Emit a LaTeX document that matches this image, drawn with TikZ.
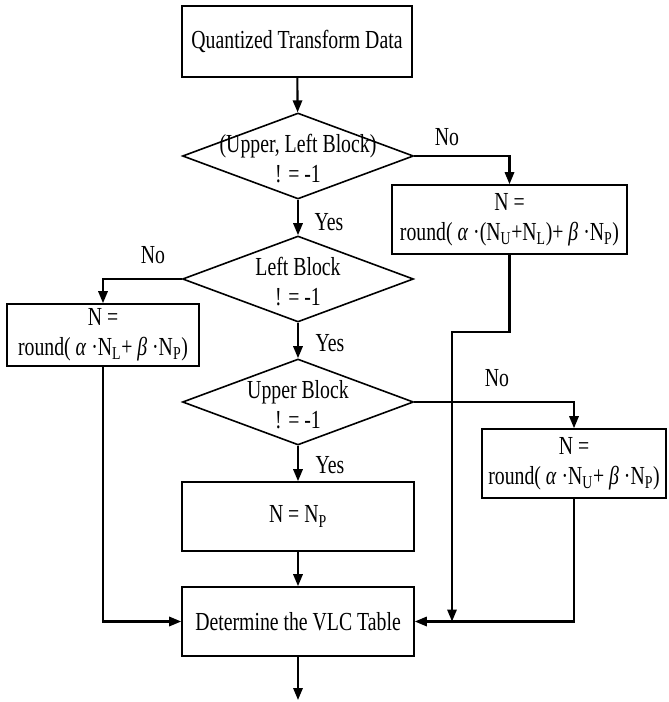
\documentclass[tikz,border=0pt]{standalone}
\usepackage{fontspec}
\setmainfont[FakeStretch=0.76]{Liberation Serif}
\usetikzlibrary{shapes.geometric,arrows.meta}

\newcommand{\flowfont}{\fontsize{19.5}{22.5}\selectfont}

\tikzset{every picture/.style={line width=0.75pt}}
\tikzset{
  procbox/.style={draw, line width=1.2pt, rectangle, inner sep=0pt, align=center, font=\flowfont},
  decision/.style={draw, line width=1.2pt, diamond, inner sep=0pt, minimum width=173.25pt, minimum height=64.5pt},
  flow/.style={line width=1.6pt, -{Triangle[length=9pt,width=7pt]}},
  tag/.style={inner sep=0.75pt, align=center, font=\flowfont}
}

\begin{document}
\begin{tikzpicture}[x=0.75pt,y=0.75pt,yscale=-1,xscale=1]
\useasboundingbox (0,0) rectangle (668,702);

% Boxes
\node [procbox, minimum width=172.5pt, minimum height=53.25pt] (input) at (297,41.5) {Quantized Transform Data};
\node [procbox, minimum width=176.25pt, minimum height=51.75pt] (bothn) at (509.5,219.5) {N =\\round( \textit{α} ·(N\textsubscript{U}+N\textsubscript{L})+ \textit{β} ·N\textsubscript{P})};
\node [procbox, minimum width=144pt, minimum height=46.5pt] (leftn) at (103,335) {N =\\round( \textit{α} ·N\textsubscript{L}+ \textit{β} ·N\textsubscript{P})};
\node [procbox, minimum width=138pt, minimum height=51.75pt] (uppern) at (574,463.5) {N =\\round( \textit{α} ·N\textsubscript{U}+ \textit{β} ·N\textsubscript{P})};
\node [procbox, minimum width=174pt, minimum height=51.75pt] (predn) at (298,516.5) {N = N\textsubscript{P}};
\node [procbox, minimum width=174pt, minimum height=51.75pt] (vlc) at (298,621.5) {Determine the VLC Table};

% Decisions
\node [decision] (bothdec) at (298,156) {};
\node [tag] (bothtxt) at (298,159) {(Upper, Left Block)\\! = -1};
\node [decision] (leftdec) at (298,279) {};
\node [tag] (lefttxt) at (298,282) {Left Block\\! = -1};
\node [decision] (updec) at (298,402) {};
\node [tag] (uptxt) at (298,405) {Upper Block\\! = -1};

\coordinate (bend) at (452,332);
\coordinate (out) at (298,700);

% Connectors
\draw [flow] (input) -- (bothdec);
\draw [flow] (bothdec.east) -| (bothn.north);
\draw [flow] (bothdec) -- (leftdec);
\draw [flow] (leftdec.west) -| (leftn.north);
\draw [flow] (leftdec) -- (updec);
\draw [flow] (updec.east) -| (uppern.north);
\draw [flow] (updec) -- (predn);
\draw [flow] (predn) -- (vlc);
\draw [flow] (leftn.south) |- (vlc.west);
\draw [flow] (uppern.south) |- (vlc.east);
\draw [flow] (bothn.south) |- (bend) -- (bend |- vlc.east);
\draw [flow] (vlc) -- (out);

% Labels
\node [tag] (no1) at (447,137) {No};
\node [tag] (yes1) at (329,222) {Yes};
\node [tag] (no2) at (153,255) {No};
\node [tag] (yes2) at (330,343) {Yes};
\node [tag] (no3) at (497,378) {No};
\node [tag] (yes3) at (330,465) {Yes};

\end{tikzpicture}
\end{document}
